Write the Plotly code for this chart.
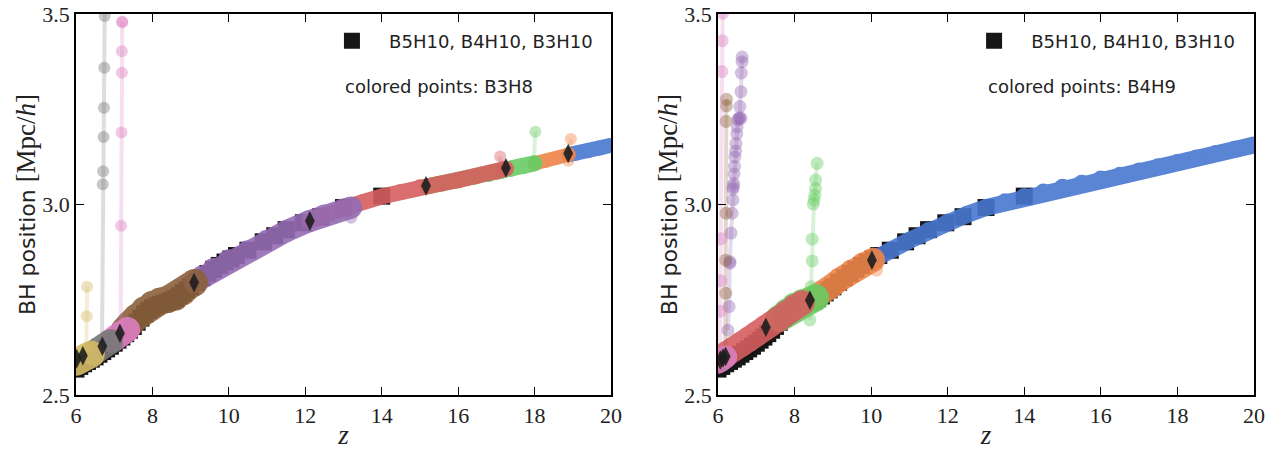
import plotly.graph_objects as go

# ---------------- data ----------------
X_TICKS = [6, 8, 10, 12, 14, 16, 18, 20]
Y_TICKS = [2.5, 3.0, 3.5]
Y_TICKTEXT = ["2.5", "3.0", "3.5"]

LEGEND_BLACK = "B5H10, B4H10, B3H10"
LABEL_LEFT = "colored points: B3H8"
LABEL_RIGHT = "colored points: B4H9"

# reference runs (black squares), same in both panels
BLACK_Z = [6.0, 6.1, 6.2, 6.3, 6.4, 6.5, 6.6, 6.7, 6.8, 6.9, 7.0, 7.1, 7.2, 7.3, 7.4, 7.5,
           7.6, 7.7, 7.8, 7.9, 8.0, 8.1, 8.2, 8.3, 8.4, 8.5, 8.6, 8.7, 8.8, 8.9, 9.0, 9.15,
           9.3, 9.45, 9.6, 9.75, 9.9, 10.05, 10.2, 10.5, 10.9, 11.2, 11.5, 11.95, 12.4, 13.0, 14.0]
BLACK_Y = [2.568, 2.575, 2.582, 2.588, 2.594, 2.600, 2.607, 2.614, 2.621, 2.628, 2.636, 2.644,
           2.652, 2.661, 2.670, 2.680, 2.691, 2.702, 2.713, 2.722, 2.729, 2.734, 2.738, 2.741,
           2.744, 2.748, 2.753, 2.760, 2.768, 2.776, 2.784, 2.796, 2.808, 2.819, 2.830, 2.840,
           2.849, 2.857, 2.866, 2.880, 2.902, 2.918, 2.934, 2.952, 2.968, 2.992, 3.022]

# ---- left panel: B3H8 ----
L_BLUE_Z = [20.0, 19.7, 19.4, 19.1, 18.9]
L_BLUE_Y = [3.155, 3.148, 3.141, 3.135, 3.131]
L_ORANGE_Z = [18.9, 18.6, 18.3, 18.0]
L_ORANGE_Y = [3.131, 3.123, 3.115, 3.108]
L_ORANGE_TZ = [18.95, 18.9, 18.88]
L_ORANGE_TY = [3.172, 3.131, 3.115]
L_GREEN_Z = [18.0, 17.7, 17.4, 17.1, 16.8, 16.4, 16.0, 15.6, 15.2]
L_GREEN_Y = [3.108, 3.101, 3.094, 3.087, 3.080, 3.072, 3.063, 3.055, 3.048]
L_GREEN_TZ = [17.98, 18.02]
L_GREEN_TY = [3.112, 3.191]
L_RED_Z = [17.25, 17.0, 16.5, 16.0, 15.5, 15.0, 14.5, 14.0, 13.5, 13.0, 12.5, 12.1]
L_RED_Y = [3.094, 3.086, 3.075, 3.064, 3.054, 3.045, 3.033, 3.021, 3.006, 2.991, 2.973, 2.957]
L_RED_TZ = [17.12, 17.1]
L_RED_TY = [3.090, 3.126]
L_PURPLE_Z = [13.2, 13.0, 12.5, 12.1, 11.5, 11.0, 10.5, 10.0, 9.6, 9.3, 9.1]
L_PURPLE_Y = [2.992, 2.987, 2.971, 2.956, 2.930, 2.905, 2.877, 2.854, 2.831, 2.811, 2.796]
L_PURPLE_TZ = [13.2]
L_PURPLE_TY = [2.965]
L_BROWN_Z = [9.1, 8.8, 8.6, 8.4, 8.2, 8.0, 7.8, 7.6, 7.4, 7.25]
L_BROWN_Y = [2.795, 2.771, 2.757, 2.751, 2.746, 2.738, 2.724, 2.705, 2.685, 2.668]
L_PINK_Z = [7.35, 7.2, 7.05, 6.95]
L_PINK_Y = [2.672, 2.663, 2.652, 2.644]
L_PINK_TZ = [7.17, 7.18, 7.19, 7.20, 7.20, 7.21, 7.21]
L_PINK_TY = [2.680, 2.944, 3.189, 3.346, 3.402, 3.478, 3.480]
L_GRAY_Z = [6.9, 6.75, 6.6, 6.45]
L_GRAY_Y = [2.640, 2.630, 2.620, 2.610]
L_GRAY_TZ = [6.68, 6.70, 6.71, 6.72, 6.73, 6.74, 6.75, 6.76]
L_GRAY_TY = [2.640, 3.053, 3.087, 3.177, 3.254, 3.359, 3.495, 3.620]
L_YELLOW_Z = [6.4, 6.25, 6.1, 6.0]
L_YELLOW_Y = [2.607, 2.600, 2.592, 2.586]
L_YELLOW_TZ = [6.27, 6.28, 6.29]
L_YELLOW_TY = [2.620, 2.707, 2.784]
L_DIAM_Z = [6.02, 6.18, 6.69, 7.15, 9.09, 12.12, 15.16, 17.25, 18.88]
L_DIAM_Y = [2.595, 2.603, 2.628, 2.662, 2.795, 2.957, 3.049, 3.096, 3.134]

# ---- right panel: B4H9 ----
R_BLUE_Z = [20.0, 19.5, 19.0, 18.5, 18.0, 17.5, 17.0, 16.5, 16.0, 15.5, 15.0, 14.5, 14.0,
            13.5, 13.0, 12.5, 12.0, 11.5, 11.0, 10.5, 10.15]
R_BLUE_Y = [3.156, 3.145, 3.134, 3.122, 3.110, 3.099, 3.088, 3.077, 3.067, 3.056, 3.045,
            3.033, 3.021, 3.007, 2.992, 2.974, 2.954, 2.932, 2.906, 2.879, 2.860]
R_ORANGE_Z = [10.05, 9.8, 9.5, 9.2, 8.9, 8.6, 8.45]
R_ORANGE_Y = [2.855, 2.843, 2.825, 2.804, 2.781, 2.760, 2.752]
R_ORANGE_TZ = [10.14]
R_ORANGE_TY = [2.828]
R_GREEN_Z = [8.55, 8.4, 8.2, 8.0, 7.8, 7.6]
R_GREEN_Y = [2.755, 2.749, 2.742, 2.733, 2.718, 2.701]
R_GREEN_TZ = [8.40, 8.43, 8.46, 8.46, 8.49, 8.51, 8.53, 8.55, 8.55, 8.59]
R_GREEN_TY = [2.697, 2.784, 2.852, 2.909, 3.001, 3.012, 3.025, 3.042, 3.064, 3.108]
R_RED_Z = [8.2, 8.0, 7.8, 7.6, 7.4, 7.25, 7.0, 6.8, 6.6, 6.4, 6.25, 6.15]
R_RED_Y = [2.742, 2.731, 2.716, 2.699, 2.687, 2.678, 2.660, 2.646, 2.633, 2.620, 2.610, 2.603]
R_PURPLE_TZ = [6.26, 6.29, 6.31, 6.31, 6.34, 6.37, 6.39, 6.39, 6.40, 6.41, 6.42, 6.43, 6.44,
               6.46, 6.47, 6.49, 6.50, 6.52, 6.54, 6.57, 6.60, 6.57, 6.60, 6.61, 6.63, 6.63]
R_PURPLE_TY = [2.670, 2.732, 2.846, 2.850, 2.925, 2.977, 3.012, 3.040, 3.047, 3.055, 3.080,
               3.100, 3.125, 3.140, 3.160, 3.185, 3.204, 3.222, 3.226, 3.228, 3.226, 3.257,
               3.296, 3.345, 3.375, 3.387]
R_BROWN_TZ = [6.19, 6.20, 6.20, 6.21, 6.21, 6.22, 6.22]
R_BROWN_TY = [2.610, 2.767, 2.854, 2.977, 3.218, 3.259, 3.276]
R_PINK_Z = [6.2, 6.1, 6.0]
R_PINK_Y = [2.600, 2.593, 2.586]
R_PINK_TZ = [6.05, 6.06, 6.07, 6.08, 6.10, 6.11, 6.12, 6.13]
R_PINK_TY = [2.600, 2.720, 2.800, 2.910, 3.349, 3.430, 3.502, 3.620]
R_DIAM_Z = [6.06, 6.13, 6.20, 7.25, 8.40, 10.02]
R_DIAM_Y = [2.592, 2.597, 2.601, 2.678, 2.749, 2.854]

# ---------------- styles ----------------
COLORS = {"blue": "#4878D0", "orange": "#EE854A", "green": "#6ACC64", "red": "#D65F5F",
          "purple": "#956CB4", "brown": "#8C613C", "pink": "#DC7EC0", "gray": "#797979",
          "yellow": "#D5BB67"}
LEFT_BAND_SIZE = {"blue": 15, "orange": 14, "green": 16, "red": 16, "purple": 22,
                  "brown": 27, "pink": 25, "gray": 25, "yellow": 27}
RIGHT_BAND_SIZE = {"blue": 17, "orange": 24, "green": 27, "red": 25, "pink": 23}
LEFT_TAIL_SIZE = 12
RIGHT_TAIL_SIZE = 13


def rgba(hex_color, a):
    h = hex_color.lstrip("#")
    r, g, b = int(h[0:2], 16), int(h[2:4], 16), int(h[4:6], 16)
    return f"rgba({r},{g},{b},{a})"


fig = go.Figure()

for xa, ya, leg in (("x", "y", "legend"), ("x2", "y2", "legend2")):
    fig.add_trace(go.Scatter(
        x=BLACK_Z, y=BLACK_Y, mode="markers", xaxis=xa, yaxis=ya,
        marker=dict(symbol="square", size=17, color="#161616", line=dict(width=0)),
        name="\u00a0\u00a0\u00a0" + LEGEND_BLACK, legend=leg, showlegend=True))


def add_band(z, y, color, size, xa, ya):
    fig.add_trace(go.Scatter(
        x=z, y=y, mode="lines+markers", xaxis=xa, yaxis=ya, opacity=0.9,
        line=dict(color=COLORS[color], width=size),
        marker=dict(size=size, color=COLORS[color], line=dict(width=0)),
        showlegend=False, hoverinfo="skip"))


def add_tail(z, y, color, size, xa, ya):
    fig.add_trace(go.Scatter(
        x=z, y=y, mode="lines+markers", xaxis=xa, yaxis=ya,
        line=dict(color=rgba(COLORS[color], 0.25), width=4),
        marker=dict(size=size, color=rgba(COLORS[color], 0.42), line=dict(width=0)),
        showlegend=False, hoverinfo="skip"))


left_tracks = [
    ("blue", L_BLUE_Z, L_BLUE_Y, None, None),
    ("orange", L_ORANGE_Z, L_ORANGE_Y, L_ORANGE_TZ, L_ORANGE_TY),
    ("green", L_GREEN_Z, L_GREEN_Y, L_GREEN_TZ, L_GREEN_TY),
    ("red", L_RED_Z, L_RED_Y, L_RED_TZ, L_RED_TY),
    ("purple", L_PURPLE_Z, L_PURPLE_Y, L_PURPLE_TZ, L_PURPLE_TY),
    ("brown", L_BROWN_Z, L_BROWN_Y, None, None),
    ("pink", L_PINK_Z, L_PINK_Y, L_PINK_TZ, L_PINK_TY),
    ("gray", L_GRAY_Z, L_GRAY_Y, L_GRAY_TZ, L_GRAY_TY),
    ("yellow", L_YELLOW_Z, L_YELLOW_Y, L_YELLOW_TZ, L_YELLOW_TY),
]
for c, z, y, tz, ty in left_tracks:
    if tz is not None:
        add_tail(tz, ty, c, LEFT_TAIL_SIZE, "x", "y")
    add_band(z, y, c, LEFT_BAND_SIZE[c], "x", "y")

right_tracks = [
    ("blue", R_BLUE_Z, R_BLUE_Y, None, None),
    ("orange", R_ORANGE_Z, R_ORANGE_Y, R_ORANGE_TZ, R_ORANGE_TY),
    ("green", R_GREEN_Z, R_GREEN_Y, R_GREEN_TZ, R_GREEN_TY),
    ("red", R_RED_Z, R_RED_Y, None, None),
    ("purple", None, None, R_PURPLE_TZ, R_PURPLE_TY),
    ("brown", None, None, R_BROWN_TZ, R_BROWN_TY),
    ("pink", R_PINK_Z, R_PINK_Y, R_PINK_TZ, R_PINK_TY),
]
for c, z, y, tz, ty in right_tracks:
    if tz is not None:
        add_tail(tz, ty, c, RIGHT_TAIL_SIZE, "x2", "y2")
    if z is not None:
        add_band(z, y, c, RIGHT_BAND_SIZE[c], "x2", "y2")

for dz, dy, xa, ya in ((L_DIAM_Z, L_DIAM_Y, "x", "y"), (R_DIAM_Z, R_DIAM_Y, "x2", "y2")):
    fig.add_trace(go.Scatter(
        x=dz, y=dy, mode="markers", xaxis=xa, yaxis=ya,
        marker=dict(symbol="diamond-tall", size=14, color="rgba(30,30,30,0.9)", line=dict(width=0)),
        showlegend=False, hoverinfo="skip"))

SANS = "DejaVu Sans"
SERIF = "Liberation Serif"
common_axis = dict(showline=True, linecolor="black", linewidth=1.5, mirror="ticks",
                   ticks="inside", ticklen=8, tickwidth=1.3, tickcolor="black",
                   showgrid=False, zeroline=False, automargin=False,
                   tickfont=dict(family=SERIF, size=22, color="#222"))

ytitle = ("BH position <span style=\"font-family:'Liberation Serif',serif;font-size:27px\">"
          "[Mpc/<i>h</i>]</span>")
xtitle = dict(text="<i>z</i>", font=dict(family=SERIF, size=27), standoff=5)
ytitle_d = dict(text=ytitle, font=dict(family=SANS, size=22), standoff=1)

fig.update_layout(
    width=1278, height=450,
    margin=dict(l=60, r=20, t=14, b=55, autoexpand=False),
    paper_bgcolor="white", plot_bgcolor="white",
    font=dict(family=SANS, color="#222"),
    xaxis=dict(domain=[0.01336, 0.45993], range=[6, 20], tickvals=X_TICKS, anchor="y",
               title=xtitle, **common_axis),
    yaxis=dict(domain=[0, 1], range=[2.5, 3.5], tickvals=Y_TICKS, ticktext=Y_TICKTEXT,
               anchor="x", title=ytitle_d, **common_axis),
    xaxis2=dict(domain=[0.54925, 0.99666], range=[6, 20], tickvals=X_TICKS, anchor="y2",
                title=xtitle, **common_axis),
    yaxis2=dict(domain=[0, 1], range=[2.5, 3.5], tickvals=Y_TICKS, ticktext=Y_TICKTEXT,
                anchor="x2", title=ytitle_d, **common_axis),
    legend=dict(x=0.227, y=0.929, xanchor="left", yanchor="middle",
                bgcolor="rgba(0,0,0,0)", font=dict(family=SANS, size=18, color="#222")),
    legend2=dict(x=0.763, y=0.929, xanchor="left", yanchor="middle",
                 bgcolor="rgba(0,0,0,0)", font=dict(family=SANS, size=18, color="#222")),
    annotations=[
        dict(text=LABEL_LEFT, x=0.2362, y=0.811, xref="paper", yref="paper",
             xanchor="left", yanchor="middle", showarrow=False,
             font=dict(family=SANS, size=18, color="#222")),
        dict(text=LABEL_RIGHT, x=0.773, y=0.811, xref="paper", yref="paper",
             xanchor="left", yanchor="middle", showarrow=False,
             font=dict(family=SANS, size=18, color="#222")),
    ],
)

fig.write_html("out.html")
